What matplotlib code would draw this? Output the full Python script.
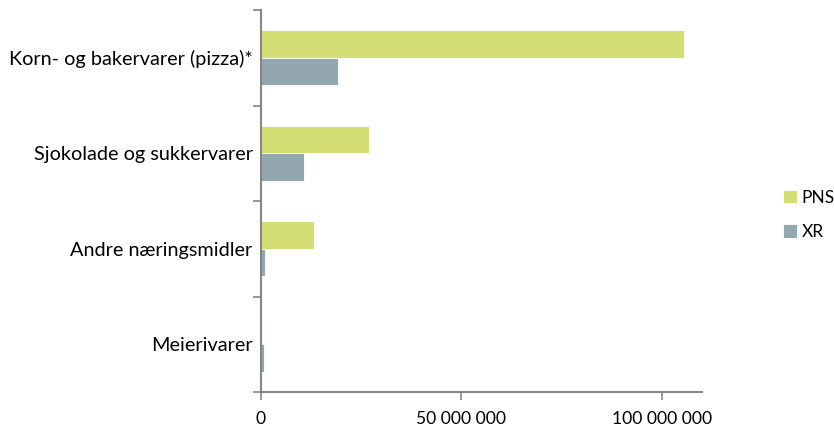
import matplotlib
matplotlib.use("Agg")
import matplotlib.pyplot as plt
from matplotlib.ticker import FixedLocator, FuncFormatter
import numpy as np

categories = ["Korn- og bakervarer (pizza)*", "Sjokolade og sukkervarer",
              "Andre næringsmidler", "Meierivarer"]
series_names = ["PNS", "XR"]
pns = [105.5e6, 27.0e6, 13.2e6, 0.2e6]
xr = [19.2e6, 10.7e6, 1.0e6, 0.75e6]
xticks = [0, 50e6, 100e6]

plt.rcParams['font.family'] = ['Lato', 'DejaVu Sans']
fig = plt.figure(figsize=(8.34, 4.28), dpi=100)
ax = fig.add_axes([261/834, 1-392/428, (702-261)/834, (392-10)/428])

pos = np.arange(len(categories))
h = 0.29
c_pns = "#D3DE74"
c_xr = "#93A7B1"
ax.barh(pos - h/2, pns, height=h, color=c_pns, edgecolor="white", linewidth=0.6, label=series_names[0])
ax.barh(pos + h/2, xr, height=h, color=c_xr, edgecolor="white", linewidth=0.6, label=series_names[1])

ax.set_ylim(len(categories) - 0.5, -0.5)
ax.set_xlim(0, 110e6)

axc = "#868686"
for s in ["top", "right"]:
    ax.spines[s].set_visible(False)
for s in ["left", "bottom"]:
    ax.spines[s].set_color(axc)
    ax.spines[s].set_linewidth(1.5)

ax.yaxis.set_major_locator(FixedLocator(np.arange(-0.5, len(categories), 1.0)))
ax.yaxis.set_major_formatter(FuncFormatter(lambda v, p: ""))
ax.yaxis.set_minor_locator(FixedLocator(pos))
ax.set_yticklabels(categories, minor=True)
ax.tick_params(axis="y", which="major", length=6, width=1.2, color=axc, direction="out")
ax.tick_params(axis="y", which="minor", length=0, pad=6, labelsize=14.3)

ax.xaxis.set_major_locator(FixedLocator(xticks))
ax.xaxis.set_major_formatter(FuncFormatter(lambda v, p: f"{int(v):,}".replace(",", " ")))
ax.tick_params(axis="x", length=6, width=1.2, color=axc, direction="out", pad=8, labelsize=12.6)

leg = fig.legend(loc="center left", bbox_to_anchor=(767/834, 1-215/428), frameon=False,
                 fontsize=12.5, handlelength=0.8, handleheight=0.8, labelspacing=1.05,
                 handletextpad=0.3)

fig.savefig("out.png", dpi=100)
